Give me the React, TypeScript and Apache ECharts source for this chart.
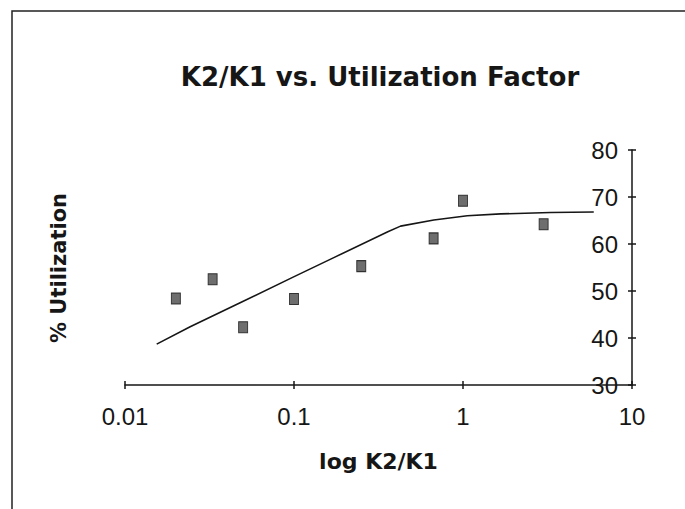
import React, { useEffect, useRef } from "react";
import * as echarts from "echarts";

const titleText = "K2/K1 vs. Utilization Factor";
const xTitle = "log K2/K1";
const yTitle = "% Utilization";

const xTickLabels = ["0.01", "0.1", "1", "10"];
const xMin = 0.01;
const xMax = 10;
const yMin = 30;
const yMax = 80;
const yStep = 10;

// measured points (squares)
const pointX = [0.02, 0.033, 0.05, 0.1, 0.25, 0.67, 1.0, 3.0];
const pointY = [48.4, 52.5, 42.3, 48.3, 55.3, 61.2, 69.2, 64.2];

// fitted curve
const curveX = [0.0154, 0.0243, 0.048, 0.0995, 0.172, 0.359, 0.427, 0.672, 1.06, 1.67, 3.3, 5.94];
const curveY = [38.7, 42.4, 47.5, 53.0, 57.1, 62.6, 63.8, 65.1, 66.0, 66.4, 66.7, 66.8];

export default function App() {
  const ref = useRef<HTMLDivElement>(null);

  useEffect(() => {
    if (!ref.current) return;
    const chart = echarts.init(ref.current, undefined, { renderer: "svg" });
    const ink = "#161616";
    const tickFont = { fontFamily: "Liberation Sans", fontSize: 24, color: ink };

    const xFmt = (v: number) => {
      const i = Math.round(Math.log10(v)) + 2;
      return xTickLabels[i] ?? "";
    };

    const baseX = {
      type: "log" as const,
      logBase: 10,
      min: xMin,
      max: xMax,
      gridIndex: 0,
      splitLine: { show: false },
      minorTick: { show: false },
    };
    const baseY = {
      type: "value" as const,
      min: yMin,
      max: yMax,
      interval: yStep,
      position: "right" as const,
      gridIndex: 0,
      splitLine: { show: false },
    };

    chart.setOption({
      animation: false,
      backgroundColor: "#ffffff",
      grid: { left: 125, right: 53, top: 150, bottom: 124 },
      xAxis: [
        {
          ...baseX,
          position: "bottom",
          axisLine: { show: true, lineStyle: { color: ink, width: 1.5 } },
          axisTick: { show: true, inside: false, length: 4, lineStyle: { color: ink, width: 1.5 } },
          axisLabel: { ...tickFont, margin: 19, formatter: xFmt },
          name: xTitle,
          nameLocation: "middle",
          nameGap: 65,
          nameTextStyle: { fontFamily: "DejaVu Sans", fontWeight: "bold", fontSize: 22, color: ink },
        },
        {
          ...baseX,
          position: "bottom",
          axisLine: { show: false },
          axisTick: { show: true, inside: true, length: 4, lineStyle: { color: ink, width: 1.5 } },
          axisLabel: { show: false },
        },
      ],
      yAxis: [
        {
          ...baseY,
          axisLine: { show: true, lineStyle: { color: ink, width: 1.5 } },
          axisTick: { show: true, inside: false, length: 4, lineStyle: { color: ink, width: 1.5 } },
          axisLabel: { ...tickFont, inside: true, margin: 14 },
        },
        {
          ...baseY,
          axisLine: { show: false },
          axisTick: { show: true, inside: true, length: 4, lineStyle: { color: ink, width: 1.5 } },
          axisLabel: { show: false },
        },
      ],
      series: [
        {
          type: "line",
          xAxisIndex: 0,
          yAxisIndex: 0,
          data: curveX.map((x, i) => [x, curveY[i]]),
          showSymbol: false,
          symbol: "none",
          smooth: false,
          lineStyle: { color: ink, width: 1.6 },
        },
        {
          type: "scatter",
          xAxisIndex: 0,
          yAxisIndex: 0,
          data: pointX.map((x, i) => [x, pointY[i]]),
          symbol: "rect",
          symbolSize: [9, 11],
          itemStyle: { color: "#4a4a4a", borderColor: "#111", borderWidth: 1 },
        },
      ],
      graphic: [
        {
          type: "polyline",
          shape: { points: [[12, 509], [12, 11], [685, 11]] },
          style: { stroke: "#222", lineWidth: 1.5, fill: "none" },
          silent: true,
        },
        {
          type: "text",
          x: 380,
          y: 77,
          style: {
            text: titleText,
            fontFamily: "DejaVu Sans",
            fontWeight: "bold",
            fontSize: 26,
            fill: ink,
            align: "center",
            verticalAlign: "middle",
          },
        },
        {
          type: "text",
          x: 59,
          y: 268,
          rotation: Math.PI / 2,
          style: {
            text: yTitle,
            fontFamily: "DejaVu Sans",
            fontWeight: "bold",
            fontSize: 21,
            fill: ink,
            align: "center",
            verticalAlign: "middle",
          },
        },
      ],
    });
    return () => chart.dispose();
  }, []);

  return (
    <div
      ref={ref}
      style={{ position: "fixed", left: 0, top: 0, width: 685, height: 509, background: "#fff" }}
    />
  );
}
